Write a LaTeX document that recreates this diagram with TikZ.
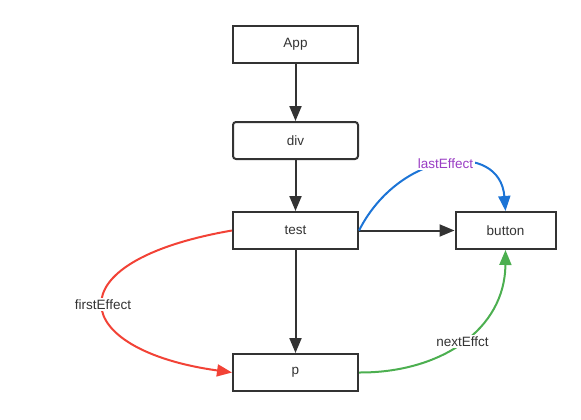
\documentclass[tikz,border=0pt]{standalone}
\usepackage{fontspec}
\setmainfont{Liberation Sans}
\usepackage{xcolor}
\usetikzlibrary{arrows.meta}
\definecolor{ink}{HTML}{333333}
\definecolor{redc}{HTML}{F24236}
\definecolor{bluec}{HTML}{1C74D6}
\definecolor{greenc}{HTML}{4CAF50}
\definecolor{purpc}{HTML}{9A3DC4}

\begin{document}
\begin{tikzpicture}[x=1pt,y=-1pt, font=\fontsize{13.5}{15}\selectfont,
  blk/.style={draw=ink,line width=2pt,minimum width=125pt,minimum height=37pt,
    inner sep=0pt,text=ink},
  tip/.style={-{Triangle[length=15pt,width=12pt]}},
  lnk/.style={draw=ink,line width=2pt,tip},
  crv/.style={line width=2pt,tip},
  lbl/.style={fill=white,inner sep=1.5pt,text=ink}]
  \useasboundingbox (0,0) rectangle (581,420);
  \node[blk] (app) at (295.5,44.5) {App};
  \node[blk,rounded corners=3pt] (div) at (295.5,140.5) {div};
  \node[blk] (test) at (295.5,230.5) {test};
  \node[blk,minimum width=100pt] (button) at (505.5,230.5) {button};
  \node[blk] (p) at (295.5,372.5) {p};
  \draw[lnk] (app) -- (div);
  \draw[lnk] (div) -- (test);
  \draw[lnk] (test) -- (p);
  \draw[lnk] (test) -- (button);
  % effect list
  \draw[crv,draw=bluec] (test.east) .. controls (400,150) and (500,140)
     .. node[lbl,text=purpc,pos=.5] {lastEffect} (button.north);
  \draw[crv,draw=redc] (test.west) .. controls (50,262) and (70,350)
     .. node[lbl,pos=.5] {firstEffect} (p.west);
  \draw[crv,draw=greenc] (p.east) .. controls (440,373) and (505,330)
     .. node[lbl,pos=.5] {nextEffct} (button.south);
\end{tikzpicture}
\end{document}
